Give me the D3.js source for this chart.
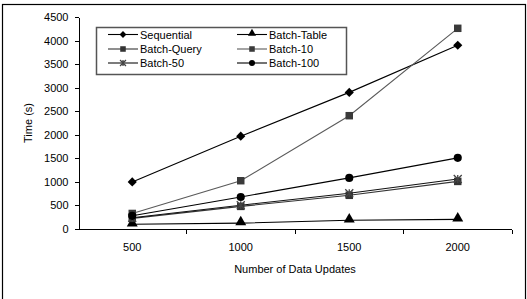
<!DOCTYPE html>
<html>
<head>
  <meta charset="utf-8">
  <script src="https://cdnjs.cloudflare.com/ajax/libs/d3/7.8.5/d3.min.js"></script>
  <style>
    body { margin: 0; padding: 0; background: #fff; }
    text { font-family: "Liberation Sans", Arial, sans-serif; font-size: 11px; fill: #000; }
    .axis path, .axis line { stroke: #000; shape-rendering: crispEdges; }
  </style>
</head>
<body>
<svg width="527" height="299"></svg>
<script>
  // data
  var updates = ["500", "1000", "1500", "2000"];
  var yTicks = [0, 500, 1000, 1500, 2000, 2500, 3000, 3500, 4000, 4500];
  var sequential = [1000, 1970, 2900, 3900];
  var batchTable = [100, 125, 185, 205];
  var batchQuery = [225, 480, 715, 1010];
  var batch10 = [330, 1025, 2405, 4260];
  var batch50 = [240, 505, 760, 1060];
  var batch100 = [280, 680, 1085, 1510];

  var series = [
    { name: "Sequential", values: sequential, line: "#000", fill: "#000", shape: "diamond" },
    { name: "Batch-Table", values: batchTable, line: "#000", fill: "#000", shape: "triangle" },
    { name: "Batch-Query", values: batchQuery, line: "#333", fill: "#333", shape: "square" },
    { name: "Batch-10", values: batch10, line: "#5a5a5a", fill: "#3a3a3a", shape: "square" },
    { name: "Batch-50", values: batch50, line: "#111", fill: "#444", shape: "star" },
    { name: "Batch-100", values: batch100, line: "#000", fill: "#000", shape: "circle" }
  ];

  (function() {
    var svg = d3.select("svg");

    // outer frame
    svg.append("rect")
      .attr("x", 2.5).attr("y", 4.5)
      .attr("width", 523).attr("height", 300)
      .attr("fill", "none").attr("stroke", "#000").attr("stroke-width", 1.2);

    var plotLeft = 78, plotRight = 512, plotTop = 17, plotBottom = 229;

    var x = d3.scaleBand().domain(updates).range([plotLeft, plotRight]);
    var y = d3.scaleLinear().domain([0, 4500]).range([plotBottom, plotTop]);

    // y axis
    svg.append("g")
      .attr("class", "axis")
      .attr("transform", "translate(" + (plotLeft + 0.5) + ",0)")
      .call(d3.axisLeft(y).tickValues(yTicks).tickFormat(d3.format("d"))
        .tickSize(4).tickSizeOuter(0).tickPadding(6))
      .call(function(g) {
        g.selectAll("text").style("font-size", "11px").style("font-family", "Liberation Sans, Arial, sans-serif");
      });

    // x axis: ticks between categories
    var xg = svg.append("g")
      .attr("class", "axis")
      .attr("transform", "translate(0," + (plotBottom + 0.5) + ")");
    xg.append("line").attr("x1", plotLeft).attr("x2", plotRight).attr("y1", 0).attr("y2", 0);
    xg.selectAll(".tk").data(updates.slice(1).concat(["end"]))
      .enter().append("line")
      .attr("x1", function(d) { return d === "end" ? plotRight : x(d); })
      .attr("x2", function(d) { return d === "end" ? plotRight : x(d); })
      .attr("y1", 0).attr("y2", 4);
    xg.selectAll(".lbl").data(updates)
      .enter().append("text")
      .attr("x", function(d) { return x(d) + x.bandwidth() / 2; })
      .attr("y", 21)
      .attr("text-anchor", "middle")
      .text(function(d) { return d; });

    // axis titles
    svg.append("text")
      .attr("x", 295).attr("y", 273)
      .attr("text-anchor", "middle")
      .text("Number of Data Updates");
    svg.append("text")
      .attr("transform", "translate(32,123) rotate(-90)")
      .attr("text-anchor", "middle")
      .text("Time (s)");

    var line = d3.line()
      .x(function(d, i) { return x(updates[i]) + x.bandwidth() / 2; })
      .y(function(d) { return y(d); });

    function marker(g, shape, fill, s) {
      if (shape === "diamond") {
        g.append("path").attr("d", d3.symbol().type(d3.symbolSquare).size(42 * s))
          .attr("transform", "rotate(45)").attr("fill", fill);
      } else if (shape === "triangle") {
        g.append("path").attr("d", d3.symbol().type(d3.symbolTriangle).size(52 * s))
          .attr("transform", "translate(0,-1)").attr("fill", fill);
      } else if (shape === "square") {
        g.append("path").attr("d", d3.symbol().type(d3.symbolSquare).size(56 * s)).attr("fill", fill);
      } else if (shape === "circle") {
        g.append("path").attr("d", d3.symbol().type(d3.symbolCircle).size(52 * s)).attr("fill", fill);
      } else if (shape === "star") {
        var r = 4 * Math.sqrt(s);
        g.append("path")
          .attr("d", "M" + (-r) + "," + (-r) + "L" + r + "," + r + "M" + (-r) + "," + r + "L" + r + "," + (-r) + "M0," + (-r) + "L0," + r)
          .attr("stroke", fill).attr("stroke-width", 1.3).attr("fill", "none");
      }
    }

    var plot = svg.append("g");
    series.forEach(function(s) {
      plot.append("path")
        .attr("d", line(s.values))
        .attr("fill", "none")
        .attr("stroke", s.line)
        .attr("stroke-width", 1.1);
    });
    series.forEach(function(s) {
      s.values.forEach(function(v, i) {
        var g = plot.append("g")
          .attr("transform", "translate(" + (x(updates[i]) + x.bandwidth() / 2) + "," + y(v) + ")");
        marker(g, s.shape, s.fill, 1);
      });
    });

    // legend
    var lg = svg.append("g");
    lg.append("rect")
      .attr("x", 96.5).attr("y", 27.5)
      .attr("width", 250).attr("height", 47)
      .attr("fill", "#fff").attr("stroke", "#555").attr("stroke-width", 1.5);
    var rowsY = [34.5, 49, 63];
    var colsX = [108, 237];
    series.forEach(function(s, i) {
      var cx = colsX[i % 2], cy = rowsY[Math.floor(i / 2)];
      lg.append("line")
        .attr("x1", cx).attr("x2", cx + 30)
        .attr("y1", cy).attr("y2", cy)
        .attr("stroke", s.line).attr("stroke-width", 1.1);
      var m = lg.append("g").attr("transform", "translate(" + (cx + 15) + "," + cy + ")");
      marker(m, s.shape, s.fill, 0.55);
      lg.append("text")
        .attr("x", cx + 32).attr("y", cy + 4)
        .text(s.name);
    });
  })();
</script>
</body>
</html>
